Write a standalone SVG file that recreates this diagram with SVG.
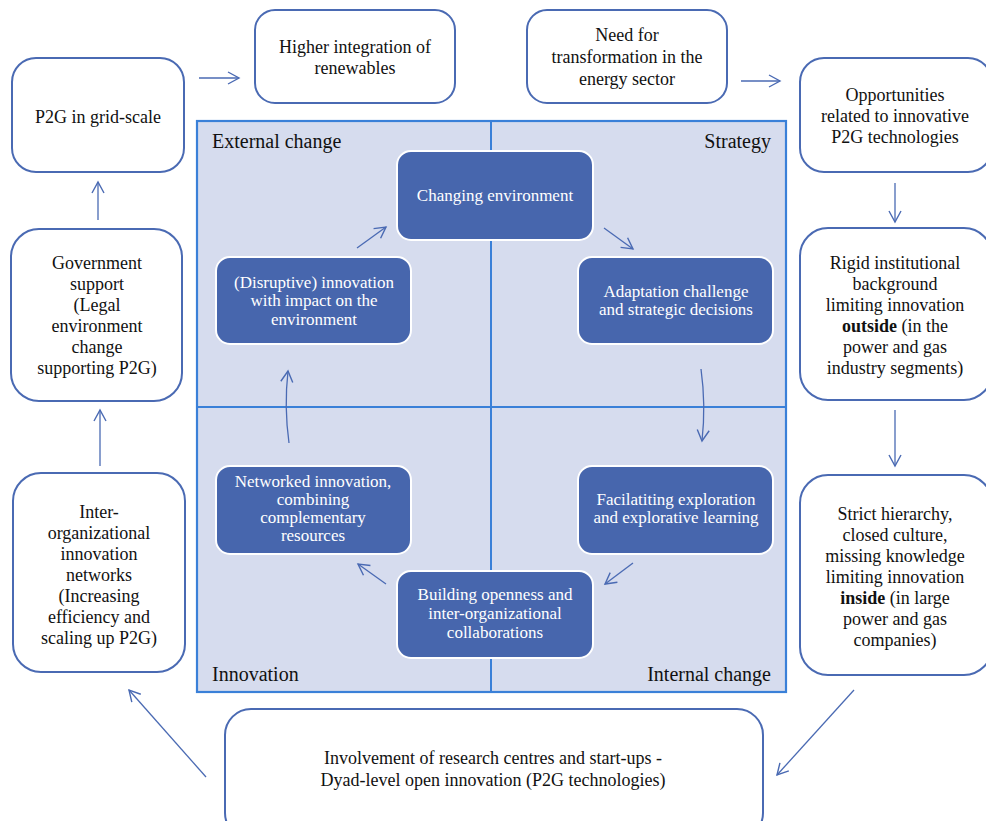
<svg xmlns="http://www.w3.org/2000/svg" width="986" height="821" viewBox="0 0 986 821" font-family="'Liberation Serif', 'Times New Roman', serif">
  <style>
    .box { fill: #ffffff; stroke: #4a6ab3; stroke-width: 2; }
    .inner { fill: #4766ad; stroke: #ffffff; stroke-width: 2; }
    .panel { fill: #d6dcee; stroke: #3a80d8; stroke-width: 2.2; }
    .divider { stroke: #3a80d8; stroke-width: 2; fill: none; }
    .t { font-size: 18px; fill: #111111; text-anchor: middle; }
    .w { font-size: 17px; fill: #ffffff; text-anchor: middle; }
    .corner { font-size: 20px; fill: #111111; }
    .arrow { stroke: #4a6ab3; stroke-width: 1.3; fill: none; marker-end: url(#vhead); }
    .bold { font-weight: bold; }
  </style>
  <defs>
    <marker id="vhead" markerUnits="userSpaceOnUse" markerWidth="14" markerHeight="14" viewBox="0 0 14 14" refX="12" refY="7" orient="auto">
      <path d="M1,1 L12,7 L1,13" fill="none" stroke="#4a6ab3" stroke-width="1.4"/>
    </marker>
  </defs>

  <rect width="986" height="821" fill="#ffffff"/>

  <!-- central quadrant panel -->
  <g id="panel">
    <rect class="panel" x="197" y="121" width="589" height="571"/>
    <line class="divider" x1="491" y1="121" x2="491" y2="692"/>
    <line class="divider" x1="197" y1="407" x2="786" y2="407"/>
    <text class="corner" x="212" y="148">External change</text>
    <text class="corner" x="771" y="148" text-anchor="end">Strategy</text>
    <text class="corner" x="212" y="681">Innovation</text>
    <text class="corner" x="771" y="681" text-anchor="end">Internal change</text>
  </g>

  <!-- outer boxes -->
  <g id="p2g-grid">
    <rect class="box" x="12" y="58" width="172" height="114" rx="24"/>
    <text class="t" x="98" y="123">P2G in grid-scale</text>
  </g>
  <g id="higher-integration">
    <rect class="box" x="255" y="10" width="200" height="93" rx="20"/>
    <text class="t" x="355" y="53">Higher integration of</text>
    <text class="t" x="355" y="74">renewables</text>
  </g>
  <g id="need-transformation">
    <rect class="box" x="527" y="10" width="200" height="93" rx="20"/>
    <text class="t" x="627" y="41">Need for</text>
    <text class="t" x="627" y="63">transformation in the</text>
    <text class="t" x="627" y="85">energy sector</text>
  </g>
  <g id="opportunities">
    <rect class="box" x="800" y="58" width="192" height="114" rx="24"/>
    <text class="t" x="895" y="101">Opportunities</text>
    <text class="t" x="895" y="122">related to innovative</text>
    <text class="t" x="895" y="143">P2G technologies</text>
  </g>
  <g id="rigid-institutional">
    <rect class="box" x="800" y="228" width="192" height="172" rx="28"/>
    <text class="t" x="895" y="269">Rigid institutional</text>
    <text class="t" x="895" y="290">background</text>
    <text class="t" x="895" y="311">limiting innovation</text>
    <text class="t" x="895" y="332"><tspan class="bold">outside</tspan> (in the</text>
    <text class="t" x="895" y="353">power and gas</text>
    <text class="t" x="895" y="374">industry segments)</text>
  </g>
  <g id="strict-hierarchy">
    <rect class="box" x="800" y="475" width="192" height="200" rx="28"/>
    <text class="t" x="895" y="520">Strict hierarchy,</text>
    <text class="t" x="895" y="541">closed culture,</text>
    <text class="t" x="895" y="562">missing knowledge</text>
    <text class="t" x="895" y="583">limiting innovation</text>
    <text class="t" x="895" y="604"><tspan class="bold">inside</tspan> (in large</text>
    <text class="t" x="895" y="625">power and gas</text>
    <text class="t" x="895" y="646">companies)</text>
  </g>
  <g id="research-centres">
    <rect class="box" x="225" y="709" width="538" height="130" rx="26"/>
    <text class="t" x="493" y="764">Involvement of research centres and start-ups -</text>
    <text class="t" x="493" y="786">Dyad-level open innovation (P2G technologies)</text>
  </g>
  <g id="inter-org-networks">
    <rect class="box" x="13" y="473" width="172" height="199" rx="28"/>
    <text class="t" x="99" y="518">Inter-</text>
    <text class="t" x="99" y="539">organizational</text>
    <text class="t" x="99" y="560">innovation</text>
    <text class="t" x="99" y="581">networks</text>
    <text class="t" x="99" y="602">(Increasing</text>
    <text class="t" x="99" y="623">efficiency and</text>
    <text class="t" x="99" y="644">scaling up P2G)</text>
  </g>
  <g id="government-support">
    <rect class="box" x="11" y="229" width="171" height="172" rx="28"/>
    <text class="t" x="97" y="269">Government</text>
    <text class="t" x="97" y="290">support</text>
    <text class="t" x="97" y="311">(Legal</text>
    <text class="t" x="97" y="332">environment</text>
    <text class="t" x="97" y="353">change</text>
    <text class="t" x="97" y="374">supporting P2G)</text>
  </g>

  <!-- inner cycle nodes -->
  <g id="changing-environment">
    <rect class="inner" x="397" y="151" width="196" height="89" rx="14"/>
    <text class="w" x="495" y="201">Changing environment</text>
  </g>
  <g id="adaptation-challenge">
    <rect class="inner" x="578" y="257" width="195" height="87" rx="14"/>
    <text class="w" x="676" y="296.5">Adaptation challenge</text>
    <text class="w" x="676" y="315">and strategic decisions</text>
  </g>
  <g id="facilitating-exploration">
    <rect class="inner" x="578" y="466" width="195" height="88" rx="14"/>
    <text class="w" x="676" y="504.5">Facilatiting exploration</text>
    <text class="w" x="676" y="523">and explorative learning</text>
  </g>
  <g id="building-openness">
    <rect class="inner" x="397" y="571" width="196" height="87" rx="14"/>
    <text class="w" x="495" y="600">Building openness and</text>
    <text class="w" x="495" y="619">inter-organizational</text>
    <text class="w" x="495" y="638">collaborations</text>
  </g>
  <g id="networked-innovation">
    <rect class="inner" x="216" y="466" width="195" height="88" rx="14"/>
    <text class="w" x="313" y="486.5">Networked innovation,</text>
    <text class="w" x="313" y="504.8">combining</text>
    <text class="w" x="313" y="523.1">complementary</text>
    <text class="w" x="313" y="541.4">resources</text>
  </g>
  <g id="disruptive-innovation">
    <rect class="inner" x="216" y="257" width="195" height="87" rx="14"/>
    <text class="w" x="314" y="287.5">(Disruptive) innovation</text>
    <text class="w" x="314" y="306">with impact on the</text>
    <text class="w" x="314" y="324.5">environment</text>
  </g>

  <!-- connectors -->
  <g id="connectors">
    <path class="arrow" d="M199,78 L239,78"/>
    <path class="arrow" d="M741,81 L780,81"/>
    <path class="arrow" d="M895,183 L895,222"/>
    <path class="arrow" d="M895,410 L895,466"/>
    <path class="arrow" d="M854,690 L777,775"/>
    <path class="arrow" d="M206,777 L129,690"/>
    <path class="arrow" d="M100,466 L100,410"/>
    <path class="arrow" d="M98,220 L98,182"/>
    <path class="arrow" d="M357,248 L386,227"/>
    <path class="arrow" d="M604,228 L633,249"/>
    <path class="arrow" d="M701,369 Q706,405 702,441"/>
    <path class="arrow" d="M633,563 L605,584"/>
    <path class="arrow" d="M386,584 L358,564"/>
    <path class="arrow" d="M289,443 Q284,407 288,371"/>
  </g>
</svg>
